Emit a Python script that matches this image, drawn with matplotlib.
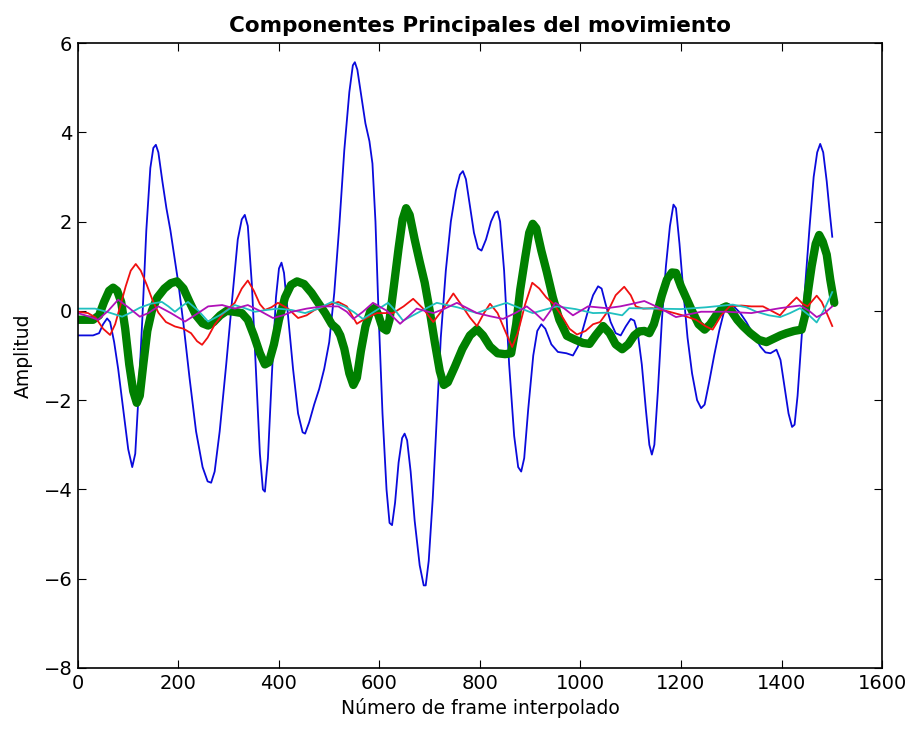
import numpy as np
import matplotlib
matplotlib.use('Agg')
import matplotlib.pyplot as plt

plt.rcParams['font.family'] = ['DejaVu Sans']

# componente 1 (azul)
x1 = [0, 30, 42, 50, 58, 64, 72, 80, 90, 100, 108, 114, 120, 128, 136, 144, 150, 155, 160, 168, 176,
      184, 192, 200, 210, 222, 235, 248, 258, 265, 272, 282, 295, 308, 318, 326, 332, 338, 346, 354,
      362, 368, 372, 378, 386, 394, 400, 405, 410, 418, 428, 438, 447, 452, 460, 470, 480, 490, 500,
      510, 520, 530, 540, 547, 551, 556, 564, 572, 580, 586, 592, 598, 606, 614, 620, 625, 631, 638,
      645, 650, 655, 662, 670, 680, 688, 692, 698, 706, 714, 722, 732, 742, 752, 760, 766, 772, 780,
      788, 796, 803, 812, 822, 830, 835, 840, 848, 858, 868, 876, 882, 888, 896, 906, 914, 922, 930,
      942, 955, 972, 985, 995, 1005, 1015, 1025, 1035, 1042, 1050, 1060, 1070, 1080, 1090, 1100, 1107,
      1114, 1122, 1130, 1137, 1142, 1147, 1154, 1162, 1170, 1178, 1185, 1190, 1197, 1205, 1213, 1222,
      1232, 1240, 1247, 1256, 1266, 1276, 1286, 1295, 1305, 1318, 1330, 1345, 1358, 1368, 1378, 1390,
      1398, 1406, 1414, 1421, 1426, 1432, 1440, 1448, 1456, 1464, 1471, 1477, 1483, 1490, 1496, 1501]
y1 = [-0.55, -0.55, -0.5, -0.3, -0.17, -0.25, -0.7, -1.3, -2.2, -3.1, -3.5, -3.2, -2.0, -0.2, 1.8, 3.2,
      3.65, 3.72, 3.55, 2.9, 2.3, 1.8, 1.2, 0.6, -0.3, -1.5, -2.7, -3.5, -3.82, -3.85, -3.6, -2.7, -1.2,
      0.4, 1.6, 2.05, 2.15, 1.9, 0.6, -1.3, -3.2, -4.0, -4.05, -3.3, -1.4, 0.3, 0.95, 1.08, 0.85, -0.1,
      -1.3, -2.3, -2.72, -2.75, -2.5, -2.1, -1.75, -1.3, -0.7, 0.4, 1.9, 3.6, 4.9, 5.5, 5.57, 5.4, 4.8,
      4.2, 3.8, 3.3, 2.0, 0.0, -2.3, -4.0, -4.75, -4.8, -4.3, -3.4, -2.85, -2.75, -2.9, -3.6, -4.7, -5.7,
      -6.15, -6.15, -5.6, -4.2, -2.4, -0.6, 0.9, 2.0, 2.7, 3.05, 3.13, 2.95, 2.35, 1.75, 1.4, 1.35, 1.6,
      2.0, 2.2, 2.23, 2.0, 0.9, -1.2, -2.8, -3.5, -3.6, -3.3, -2.2, -1.0, -0.45, -0.3, -0.4, -0.75, -0.92,
      -0.95, -1.0, -0.8, -0.4, 0.0, 0.35, 0.55, 0.5, 0.15, -0.25, -0.5, -0.55, -0.35, -0.18, -0.22, -0.5,
      -1.2, -2.2, -3.0, -3.22, -3.0, -1.8, -0.2, 1.0, 1.9, 2.38, 2.3, 1.5, 0.4, -0.6, -1.4, -2.0, -2.18,
      -2.1, -1.6, -1.0, -0.45, 0.0, 0.15, 0.1, -0.05, -0.25, -0.55, -0.8, -0.93, -0.95, -0.87, -1.1,
      -1.7, -2.3, -2.6, -2.55, -1.9, -0.6, 0.7, 1.9, 3.0, 3.55, 3.74, 3.55, 2.9, 2.2, 1.66]

# componente 2 (verde)
x2 = [0, 30, 42, 52, 62, 70, 78, 86, 94, 102, 110, 117, 123, 130, 138, 147, 158, 172, 185, 197, 210,
      222, 235, 248, 259, 270, 283, 296, 310, 326, 338, 350, 362, 372, 380, 390, 400, 412, 424, 436,
      450, 465, 478, 492, 505, 515, 522, 530, 540, 548, 555, 563, 572, 582, 591, 598, 606, 614, 620,
      628, 638, 646, 653, 660, 670, 680, 690, 700, 710, 720, 728, 736, 750, 765, 780, 794, 806, 820,
      835, 850, 862, 872, 880, 890, 898, 905, 912, 922, 933, 945, 958, 973, 990, 1005, 1018, 1030,
      1045, 1058, 1070, 1083, 1095, 1107, 1117, 1127, 1137, 1146, 1153, 1162, 1172, 1182, 1190, 1200,
      1210, 1222, 1235, 1247, 1258, 1270, 1282, 1290, 1300, 1312, 1323, 1338, 1355, 1370, 1385, 1398,
      1410, 1425, 1440, 1447, 1453, 1460, 1468, 1475, 1482, 1490, 1497, 1505]
y2 = [-0.2, -0.2, -0.1, 0.2, 0.45, 0.52, 0.45, 0.2, -0.4, -1.2, -1.8, -2.06, -1.9, -1.2, -0.45, 0.0,
      0.3, 0.5, 0.62, 0.66, 0.5, 0.2, -0.1, -0.28, -0.33, -0.25, -0.1, 0.0, -0.02, -0.05, -0.2, -0.55,
      -0.95, -1.2, -1.15, -0.75, -0.2, 0.3, 0.58, 0.66, 0.6, 0.4, 0.18, -0.05, -0.3, -0.4, -0.55, -0.85,
      -1.4, -1.66, -1.5, -0.9, -0.35, 0.0, 0.07, -0.1, -0.38, -0.44, -0.2, 0.5, 1.4, 2.05, 2.3, 2.15,
      1.6, 1.1, 0.63, 0.0, -0.7, -1.35, -1.66, -1.6, -1.25, -0.85, -0.55, -0.41, -0.55, -0.8, -0.95,
      -0.97, -0.95, -0.3, 0.47, 1.2, 1.75, 1.95, 1.85, 1.35, 0.87, 0.3, -0.2, -0.56, -0.65, -0.72, -0.74,
      -0.55, -0.34, -0.5, -0.75, -0.86, -0.75, -0.55, -0.46, -0.45, -0.5, -0.3, -0.02, 0.35, 0.7, 0.86,
      0.85, 0.55, 0.3, 0.0, -0.3, -0.42, -0.3, -0.1, 0.06, 0.1, 0.0, -0.2, -0.34, -0.5, -0.65, -0.7,
      -0.62, -0.55, -0.5, -0.45, -0.42, -0.1, 0.46, 1.0, 1.5, 1.7, 1.55, 1.26, 0.7, 0.18]

# componente 3 (rojo)
x3 = [0, 20, 35, 50, 64, 74, 84, 95, 105, 115, 125, 137, 148, 160, 175, 193, 210, 225, 237, 247, 258,
      272, 290, 312, 326, 338, 350, 362, 372, 385, 398, 418, 438, 455, 471, 495, 518, 535, 555, 575,
      595, 627, 648, 667, 687, 707, 727, 747, 765, 780, 794, 808, 820, 835, 850, 864, 875, 890, 904,
      918, 932, 946, 962, 978, 993, 1010, 1025, 1039, 1055, 1070, 1087, 1100, 1110, 1125, 1143, 1170,
      1203, 1230, 1250, 1263, 1280, 1297, 1320, 1340, 1363, 1380, 1397, 1412, 1430, 1443, 1452, 1470,
      1480, 1490, 1501]
y3 = [-0.02, -0.05, -0.15, -0.4, -0.54, -0.3, 0.1, 0.55, 0.9, 1.05, 0.9, 0.58, 0.25, -0.04, -0.25,
      -0.35, -0.4, -0.5, -0.68, -0.76, -0.6, -0.31, -0.05, 0.18, 0.5, 0.68, 0.45, 0.15, 0.02, 0.08, 0.18,
      0.05, -0.16, -0.1, 0.02, 0.12, 0.2, 0.1, -0.29, -0.15, -0.05, -0.05, 0.1, 0.27, 0.05, -0.25, 0.05,
      0.39, 0.1, -0.15, -0.34, -0.05, 0.16, -0.05, -0.45, -0.81, -0.5, 0.15, 0.63, 0.5, 0.3, 0.16, -0.1,
      -0.4, -0.53, -0.45, -0.3, -0.25, 0.0, 0.35, 0.54, 0.35, 0.1, 0.05, 0.06, 0.0, -0.1, -0.2, -0.35,
      -0.42, -0.1, 0.1, 0.12, 0.1, 0.1, 0.0, -0.1, 0.1, 0.3, 0.15, 0.1, 0.34, 0.2, -0.05, -0.34]

# componente 4 (cian)
x4 = [0, 34, 60, 88, 105, 123, 145, 167, 180, 193, 206, 219, 240, 259, 285, 312, 332, 352, 375, 398,
      425, 452, 480, 505, 530, 548, 567, 592, 617, 632, 647, 680, 714, 755, 794, 825, 853, 880, 905,
      930, 953, 990, 1025, 1055, 1083, 1097, 1150, 1200, 1250, 1303, 1330, 1350, 1375, 1397, 1417,
      1437, 1455, 1470, 1486, 1501]
y4 = [0.05, 0.05, -0.03, -0.13, -0.04, 0.07, 0.16, 0.2, 0.1, -0.02, 0.1, 0.2, 0.0, -0.24, -0.08, 0.13,
      0.06, -0.02, 0.02, 0.05, 0.02, -0.05, 0.06, 0.2, 0.1, -0.02, -0.18, 0.0, 0.18, 0.0, -0.22, -0.02,
      0.18, 0.08, -0.05, 0.08, 0.18, 0.06, -0.05, 0.03, 0.1, 0.04, -0.05, -0.04, -0.1, 0.06, 0.05, 0.04,
      0.08, 0.14, 0.08, -0.02, -0.1, -0.14, -0.05, 0.06, -0.1, -0.26, 0.05, 0.42]

# componente 5 (magenta)
x5 = [0, 20, 40, 60, 80, 100, 123, 140, 160, 185, 213, 235, 259, 287, 312, 338, 362, 388, 408, 426,
      455, 486, 518, 535, 548, 567, 587, 615, 641, 658, 674, 707, 730, 754, 794, 820, 846, 870, 893,
      910, 926, 940, 950, 968, 985, 1015, 1052, 1079, 1100, 1127, 1160, 1190, 1240, 1290, 1340, 1397,
      1437, 1455, 1470, 1486, 1501]
y5 = [-0.05, -0.12, -0.2, 0.0, 0.25, 0.08, -0.13, -0.05, 0.1, -0.05, -0.24, -0.08, 0.1, 0.13, 0.05,
      0.13, 0.0, -0.16, -0.1, -0.02, 0.05, 0.1, 0.1, -0.02, -0.18, -0.02, 0.18, 0.0, -0.29, -0.12, 0.05,
      -0.05, 0.05, 0.18, -0.05, -0.12, -0.18, -0.05, 0.1, -0.05, -0.22, 0.0, 0.18, 0.05, -0.1, 0.1,
      0.06, 0.1, 0.15, 0.22, 0.05, -0.14, -0.02, -0.02, -0.05, 0.06, 0.12, 0.0, -0.14, -0.05, 0.1]

fig = plt.figure(figsize=(9.14, 7.29), dpi=100)
ax = fig.add_axes([0.0853, 0.0837, 0.8797, 0.8573])

ax.plot(x1, y1, color='#0a0adc', linewidth=1.3)
ax.plot(x2, y2, color='#008000', linewidth=6, solid_joinstyle='round', solid_capstyle='round')
ax.plot(x3, y3, color='#f01010', linewidth=1.3)
ax.plot(x4, y4, color='#20c0c0', linewidth=1.3)
ax.plot(x5, y5, color='#b010b8', linewidth=1.3)

ax.set_xlim(0, 1600)
ax.set_ylim(-8, 6)
ax.set_xticks(range(0, 1601, 200))
ax.set_yticks(range(-8, 7, 2))
ax.tick_params(direction='in', length=6, labelsize=14, top=True, right=True, pad=4)
for s in ax.spines.values():
    s.set_linewidth(1.2)

ax.set_title('Componentes Principales del movimiento', fontsize=15.5, fontweight='bold', pad=8)
ax.set_xlabel('Número de frame interpolado', fontsize=13.5)
ax.set_ylabel('Amplitud', fontsize=13.5, labelpad=8)

fig.savefig('out.png', dpi=100)
